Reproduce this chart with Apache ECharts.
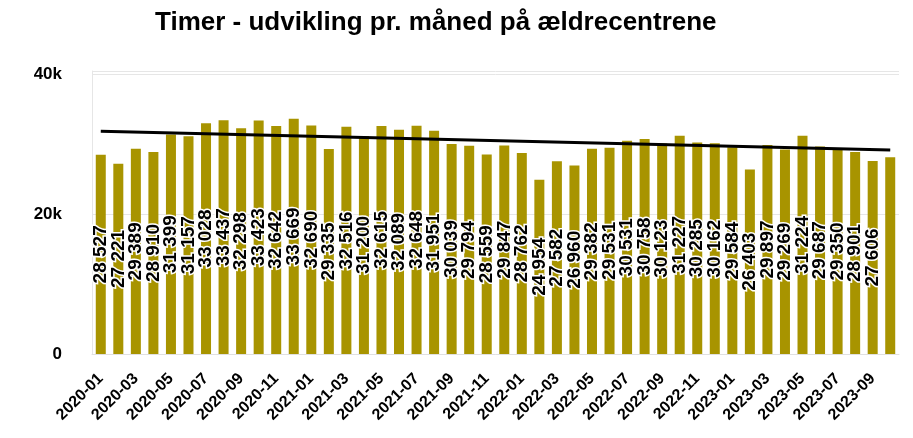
<!DOCTYPE html>
<html>
<head>
<meta charset="utf-8">
<script src="https://cdn.jsdelivr.net/npm/echarts@6/dist/echarts.min.js"></script>
<style>
html, body { margin: 0; padding: 0; background: #fff; }
#chart { width: 913px; height: 438px; }
</style>
</head>
<body>
<div id="chart"></div>
<script>
var months = [
    '2020-01','2020-02','2020-03','2020-04','2020-05','2020-06','2020-07','2020-08','2020-09','2020-10','2020-11','2020-12',
    '2021-01','2021-02','2021-03','2021-04','2021-05','2021-06','2021-07','2021-08','2021-09','2021-10','2021-11','2021-12',
    '2022-01','2022-02','2022-03','2022-04','2022-05','2022-06','2022-07','2022-08','2022-09','2022-10','2022-11','2022-12',
    '2023-01','2023-02','2023-03','2023-04','2023-05','2023-06','2023-07','2023-08','2023-09','2023-10'
];
var hours = [
    28527, 27221, 29389, 28910, 31399, 31157, 33028, 33437, 32298, 33423, 32642, 33669,
    32690, 29335, 32516, 31200, 32615, 32089, 32648, 31951, 30039, 29794, 28559, 29847,
    28762, 24954, 27582, 26960, 29382, 29531, 30531, 30758, 30123, 31227, 30285, 30162,
    29584, 26403, 29897, 29269, 31224, 29687, 29350, 28901, 27606, 28150
];
// trend line: first and last month
var trendStart = 31860;
var trendEnd = 29200;

var trend = months.map(function (m, i) {
    if (i === 0) return trendStart;
    if (i === months.length - 1) return trendEnd;
    return null;
});

function fmt(v) {
    var s = String(v);
    return s.slice(0, s.length - 3) + ' ' + s.slice(-3);
}

var myChart = echarts.init(document.getElementById('chart'));
myChart.setOption({
    animation: false,
    title: {
        text: 'Timer - udvikling pr. måned på ældrecentrene',
        left: 150,
        top: 5,
        textStyle: {
            fontFamily: 'Liberation Sans',
            fontSize: 26,
            fontWeight: 'bold',
            color: '#000'
        }
    },
    grid: { left: 92, right: 14, top: 71, bottom: 84 },
    xAxis: {
        type: 'category',
        data: months,
        axisLine: { lineStyle: { color: '#e0e0e0' } },
        axisTick: { show: false },
        axisLabel: {
            interval: 1,
            rotate: 45,
            fontFamily: 'Liberation Sans',
            fontSize: 16,
            fontWeight: 'bold',
            color: '#000',
            margin: 22
        }
    },
    yAxis: {
        type: 'value',
        min: 0,
        max: 40500,
        interval: 20000,
        axisLine: { show: true, lineStyle: { color: '#e6e6e6' } },
        splitLine: { lineStyle: { color: '#e6e6e6' } },
        axisLabel: {
            margin: 30,
            padding: [5, 0, 0, 0],
            fontFamily: 'Liberation Sans',
            fontSize: 17,
            fontWeight: 'bold',
            color: '#000',
            formatter: function (v) {
                if (v % 20000 !== 0) return '';
                return v === 0 ? '0' : (v / 1000) + 'k';
            }
        }
    },
    series: [
        {
            type: 'bar',
            data: hours,
            barWidth: '57%',
            itemStyle: { color: '#A89400' },
            label: {
                show: true,
                position: 'inside',
                rotate: 90,
                fontFamily: 'Liberation Sans',
                fontSize: 19,
                fontWeight: 'bold',
                color: '#000',
                textBorderColor: '#fff',
                textBorderWidth: 3,
                formatter: function (p) {
                    return p.dataIndex === hours.length - 1 ? '' : fmt(p.value);
                }
            }
        },
        {
            type: 'line',
            data: trend,
            connectNulls: true,
            symbol: 'none',
            lineStyle: { color: '#000', width: 3 },
            z: 5
        }
    ]
});
</script>
</body>
</html>
